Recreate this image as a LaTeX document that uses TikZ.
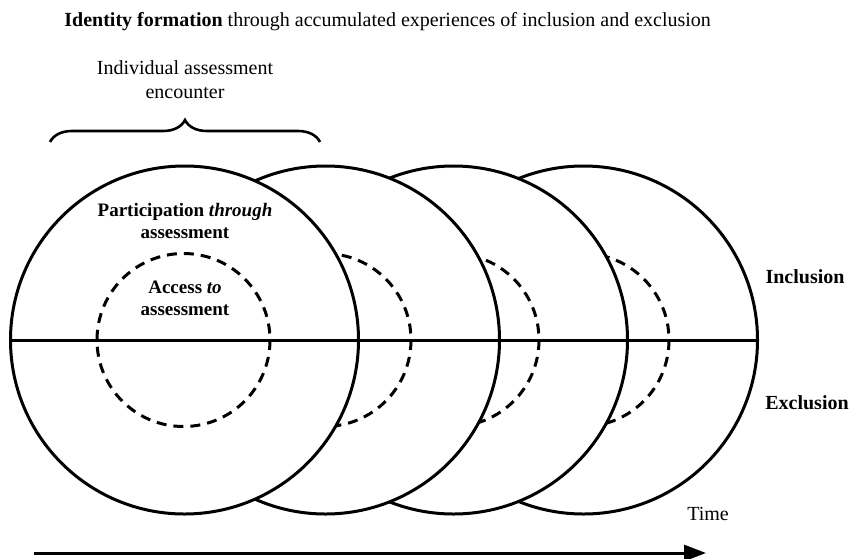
\documentclass[tikz,border=0pt]{standalone}
\usepackage{fontspec}
\setmainfont{Liberation Serif}
\usetikzlibrary{decorations.pathreplacing}
\usetikzlibrary{arrows.meta}

\begin{document}
\begin{tikzpicture}[x=0.5pt, y=-0.5pt,
  ring/.style={line width=1.5pt},
  inner ring/.style={line width=1.5pt, dash pattern=on 5pt off 3.5pt},
  plainlabel/.style={font=\fontsize{10}{12}\selectfont, align=center, inner sep=0pt},
  boldlabel/.style={font=\fontsize{9.5}{11}\selectfont\bfseries, align=center, inner sep=0pt}]
\useasboundingbox (0,0) rectangle (850,558);
\foreach \cx in {583.5,453.5,325.5,184.5} {
  \draw [ring, fill=white] (\cx,340) circle [radius=174];
  \draw [inner ring] (\cx-1,340) circle [radius=86.5];
}
\coordinate (lineL) at (10.5,340);
\coordinate (lineR) at (757.5,340);
\draw [ring] (lineL) -- (lineR);
\node [plainlabel, anchor=west] (title) at (64,22) {\textbf{Identity formation} through accumulated experiences of inclusion and exclusion};
\node [plainlabel] (encounter) at (185,80) {Individual assessment\\encounter};
\coordinate (braceL) at (50,142);
\coordinate (braceR) at (320,142);
\draw [line width=1.3pt, decorate, decoration={brace, amplitude=11pt}] (braceL) -- (braceR);
\node [boldlabel] (participation) at (185,221) {Participation \textit{through}\\assessment};
\node [boldlabel] (access) at (185,298) {Access \textit{to}\\assessment};
\node [plainlabel, font=\fontsize{10}{12}\selectfont\bfseries] (inclusion) at (805,277) {Inclusion};
\node [plainlabel, font=\fontsize{10}{12}\selectfont\bfseries] (exclusion) at (807,403) {Exclusion};
\node [plainlabel] (time) at (708,514) {Time};
\coordinate (tstart) at (34,553);
\coordinate (tend) at (706,553);
\draw [line width=1.5pt, -{Triangle[length=11pt, width=8pt]}] (tstart) -- (tend);
\end{tikzpicture}
\end{document}
